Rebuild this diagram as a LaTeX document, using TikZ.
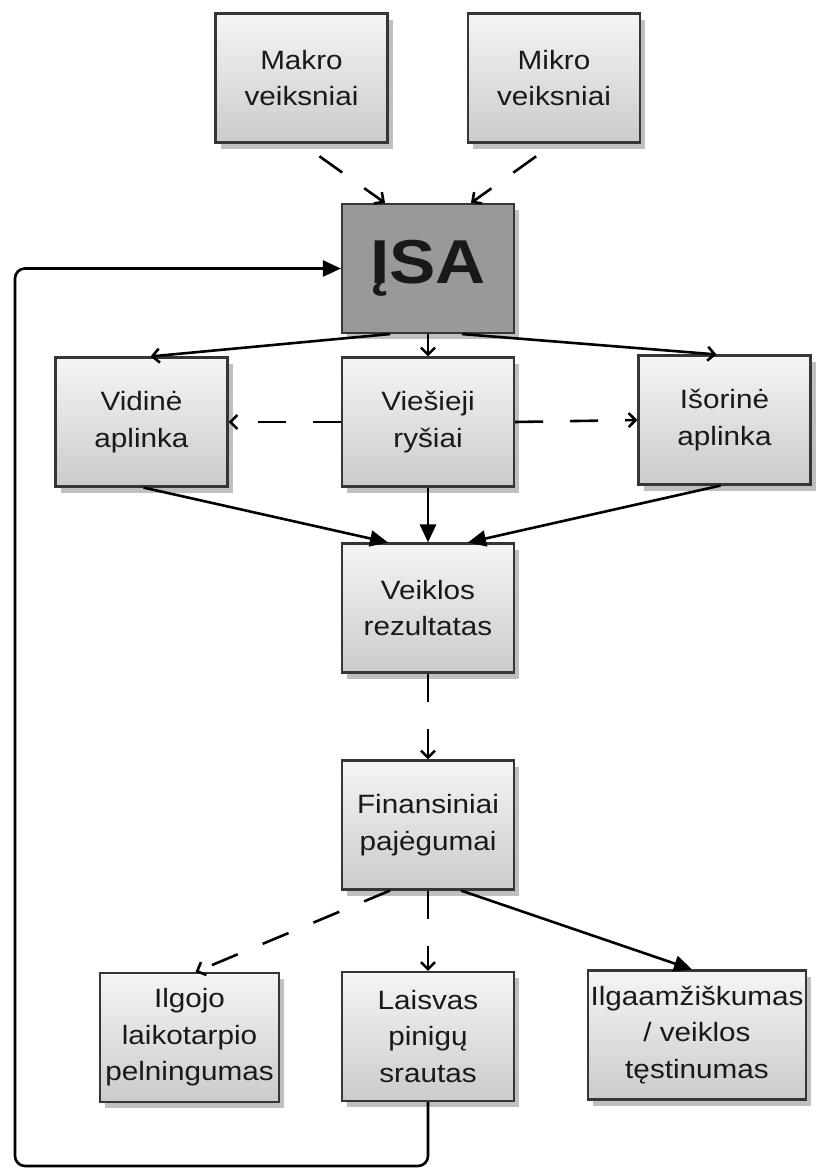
\documentclass[tikz,border=0pt]{standalone}
\usepackage{fontspec}
\setmainfont{Liberation Sans}[FakeStretch=1.12]
\usetikzlibrary{arrows.meta,shadows,calc}
\definecolor{boxline}{HTML}{363636}
\definecolor{boxtop}{HTML}{F5F5F5}
\definecolor{boxbot}{HTML}{CBCBCB}
\definecolor{isafill}{HTML}{999999}
\begin{document}
\begin{tikzpicture}[x=1pt,y=-1pt,
  box/.style={draw=boxline, line width=2.1pt, top color=boxtop, bottom color=boxbot,
    minimum width=172pt, minimum height=129pt, align=center, inner sep=2pt,
    font=\fontsize{26.5}{36.5}\selectfont, text=black!90,
    drop shadow={shadow xshift=5pt,shadow yshift=-6pt,fill=black,opacity=0.25}},
  isabox/.style={box, top color=isafill, bottom color=isafill, font=\fontsize{62}{70}\selectfont\bfseries},
  conn/.style={line width=2.6pt, draw=black},
  dconn/.style={conn, dash pattern=on 28pt off 27pt},
  varr/.style={-{Straight Barb[length=7pt,width=14pt]}},
  tarr/.style={-{Triangle[length=18pt,width=16pt]}}
]
\useasboundingbox[fill=white] (0,0) rectangle (815,1170);

\node[box] (mak) at (301.5,78) {Makro\\veiksniai};
\node[box] (mik) at (554,78) {Mikro\\veiksniai};
\node[isabox] (isa) at (428,268.5) {ĮSA};
\node[box] (vid) at (141.5,422) {Vidinė\\aplinka};
\node[box] (vie) at (428,422) {Viešieji\\ryšiai};
\node[box] (iso) at (724.5,420) {Išorinė\\aplinka};
\node[box] (vei) at (428,608) {Veiklos\\rezultatas};
\node[box] (fin) at (428,825) {Finansiniai\\pajėgumai};
\node[box, minimum width=179pt] (ilg) at (189.5,1037.5) {Ilgojo\\laikotarpio\\pelningumas};
\node[box] (las) at (428,1036.5) {Laisvas\\pinigų\\srautas};
\node[box, minimum width=218pt] (ilm) at (697,1035) {Ilgaamžiškumas\\/ veiklos\\tęstinumas};

\coordinate (fbc) at (15,1166);

% top inputs
\draw[dconn,varr,shorten <=22pt] (mak.south) -- ($(isa.north)+(-43,0)$);
\draw[dconn,varr,shorten <=22pt] (mik.south) -- ($(isa.north)+(43,0)$);

% ISA to middle row
\draw[conn,varr] ($(isa.south)+(-38,0)$) -- ($(vid.north)+(9,0)$);
\draw[conn,varr] (isa.south) -- (vie.north);
\draw[conn,varr] ($(isa.south)+(34,0)$) -- ($(iso.north)+(-8,0)$);

% PR to environments
\draw[dconn,varr] (vie.west) -- (vid.east);
\draw[dconn,varr] (vie.east) -- (iso.west);

% middle row to result
\draw[conn,tarr] ($(vid.south)+(2,0)$) -- ($(vei.north)+(-40,0)$);
\draw[conn,tarr] (vie.south) -- (vei.north);
\draw[conn,tarr] ($(iso.south)+(-4,0)$) -- ($(vei.north)+(40,0)$);

% result to finance
\draw[dconn,varr] (vei.south) -- (fin.north);

% finance to bottom row
\draw[dconn,varr] ($(fin.south)+(-38,0)$) -- ($(ilg.north)+(6,0)$);
\draw[dconn,varr] (fin.south) -- (las.north);
\draw[conn,tarr] ($(fin.south)+(33,0)$) -- ($(ilm.north)+(-5,0)$);

% feedback
\draw[conn,tarr,rounded corners=10pt] (las.south) |- (fbc) |- (isa.west);
\end{tikzpicture}
\end{document}
